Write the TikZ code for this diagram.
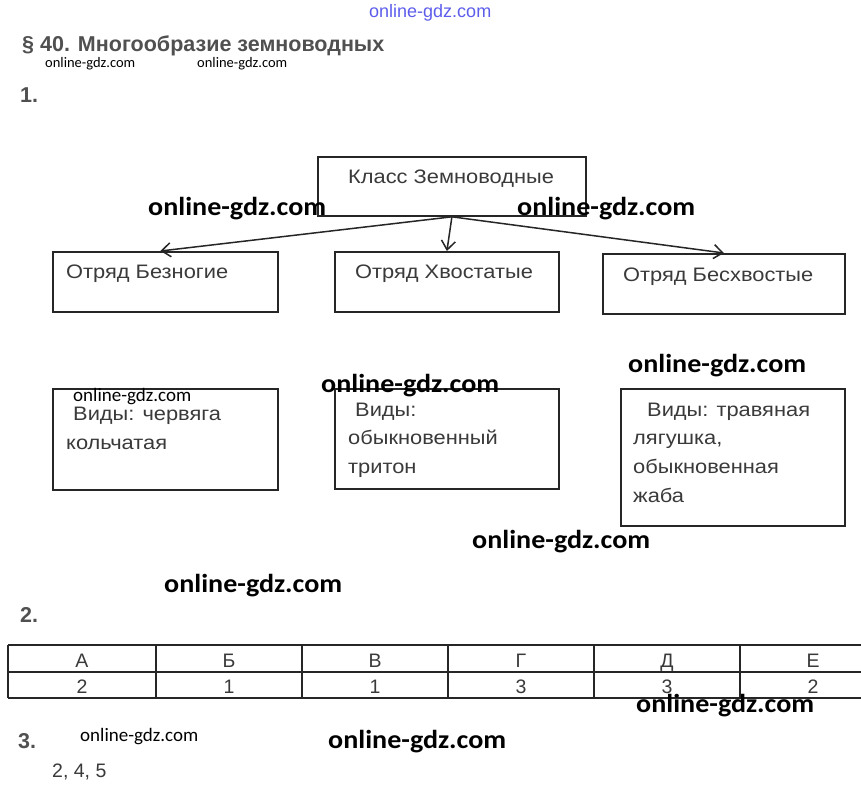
\documentclass[tikz,border=0pt]{standalone}
\usepackage{fontspec}
\setmainfont{Liberation Sans}
\newfontfamily\dfont[FakeStretch=1.12]{Liberation Sans}
\newfontfamily\wmfont{Carlito}
\newfontfamily\wmbfont[FakeStretch=1.08]{Carlito}
\usetikzlibrary{arrows.meta}
\definecolor{txt}{HTML}{3A3A3A}
\definecolor{hd}{HTML}{505050}
\definecolor{ln}{HTML}{262626}
\definecolor{wmblue}{RGB}{40,40,230}
\tikzset{
 box/.style={draw=ln, line width=1.8pt, rectangle, inner sep=0pt, anchor=north west},
 lbl/.style={anchor=base west, inner sep=0pt, text=txt, font=\dfont\fontsize{19.5}{23}\selectfont},
 wm/.style={anchor=base west, inner sep=0pt, text=black, font=\wmbfont\bfseries\fontsize{26}{30}\selectfont},
 wms/.style={anchor=base west, inner sep=0pt, text=black, font=\wmfont\fontsize{19}{22}\selectfont},
 wmt/.style={anchor=base west, inner sep=0pt, text=black, font=\wmfont\fontsize{14.5}{17}\selectfont},
 arr/.style={draw=ln, line width=1.5pt, -{Straight Barb[length=9pt,width=14pt,line width=1.5pt]}},
 cell/.style={anchor=base, inner sep=0pt, text=txt, font=\fontsize{19.5}{23}\selectfont},
 head/.style={anchor=base west, inner sep=0pt, text=hd, font=\bfseries\fontsize{21.5}{25}\selectfont},
 tl/.style={draw=ln, line width=1.1pt},
}
\begin{document}
\begin{tikzpicture}[x=1pt,y=-1pt]
\useasboundingbox[fill=white] (0,0) rectangle (861,796);

% top watermark
\node[anchor=base west, inner sep=0pt, text=wmblue, opacity=0.75, font=\fontsize{18}{20}\selectfont] (wtop) at (369,17) {online-gdz.com};

% headings
\node[head] (h0) at (22,51) {§ 40. Многообразие земноводных};
\node[head] (h1) at (20,102) {1.};
\node[head] (h2) at (20,622) {2.};
\node[head] (h3) at (18,748) {3.};

% boxes
\node[box, minimum width=268pt, minimum height=59pt] (k) at (317,156) {};
\node[box, minimum width=225pt, minimum height=60pt] (b1) at (52,251) {};
\node[box, minimum width=224pt, minimum height=60pt] (b2) at (334,251) {};
\node[box, minimum width=242pt, minimum height=60pt] (b3) at (602,253) {};
\node[box, minimum width=225pt, minimum height=101pt] (s1) at (52,388) {};
\node[box, minimum width=224pt, minimum height=100pt] (s2) at (334,388) {};
\node[box, minimum width=224pt, minimum height=137pt] (s3) at (620,388) {};

% arrows
\draw[arr] (k.south) -- ([xshift=-5pt]b1.north);
\draw[arr] (k.south) -- (b2.north);
\draw[arr] (k.south) -- (b3.north);

% box texts
\node[lbl] (tk) at (348,183) {Класс Земноводные};
\node[lbl] (t1) at (66,278) {Отряд Безногие};
\node[lbl] (t2) at (355,278) {Отряд Хвостатые};
\node[lbl] (t3) at (623,281) {Отряд Бесхвостые};

\node[lbl] (v1a) at (73,420) {Виды: червяга};
\node[lbl] (v1b) at (66,449) {кольчатая};

\node[lbl] (v2a) at (355,416) {Виды:};
\node[lbl] (v2b) at (348,444) {обыкновенный};
\node[lbl] (v2c) at (348,473) {тритон};

\node[lbl] (v3a) at (647,416) {Виды: травяная};
\node[lbl] (v3b) at (633,444) {лягушка,};
\node[lbl] (v3c) at (633,473) {обыкновенная};
\node[lbl] (v3d) at (633,502) {жаба};

% table
\draw[tl] (8,645) -- (861,645);
\draw[tl] (8,672) -- (861,672);
\draw[tl] (8,698) -- (861,698);
\foreach \x in {8,156,302,448,594,740} { \draw[tl] (\x,645) -- (\x,698); }
\node[cell] (ca) at (82,667) {А};
\node[cell] (cb) at (229,667) {Б};
\node[cell] (cc) at (375,667) {В};
\node[cell] (cd) at (521,667) {Г};
\node[cell] (ce) at (667,667) {Д};
\node[cell] (cf) at (813,667) {Е};
\node[cell] (da) at (82,693) {2};
\node[cell] (db) at (229,693) {1};
\node[cell] (dc) at (375,693) {1};
\node[cell] (dd) at (521,693) {3};
\node[cell] (de) at (667,693) {3};
\node[cell] (df) at (813,693) {2};

% answer 3
\node[cell, anchor=base west] (ans) at (52,777) {2, 4, 5};

% watermarks
\node[wmt] (w1) at (45,67) {online-gdz.com};
\node[wmt] (w2) at (197,67) {online-gdz.com};
\node[wm] (w3) at (148,215) {online-gdz.com};
\node[wm] (w4) at (517,215) {online-gdz.com};
\node[wm] (w5) at (628,372) {online-gdz.com};
\node[wm] (w6) at (321,392) {online-gdz.com};
\node[wms] (w7) at (73,401) {online-gdz.com};
\node[wm] (w8) at (472,548) {online-gdz.com};
\node[wm] (w9) at (164,592) {online-gdz.com};
\node[wm] (w10) at (636,712) {online-gdz.com};
\node[wms] (w11) at (80,741) {online-gdz.com};
\node[wm] (w12) at (328,748) {online-gdz.com};
\end{tikzpicture}
\end{document}
